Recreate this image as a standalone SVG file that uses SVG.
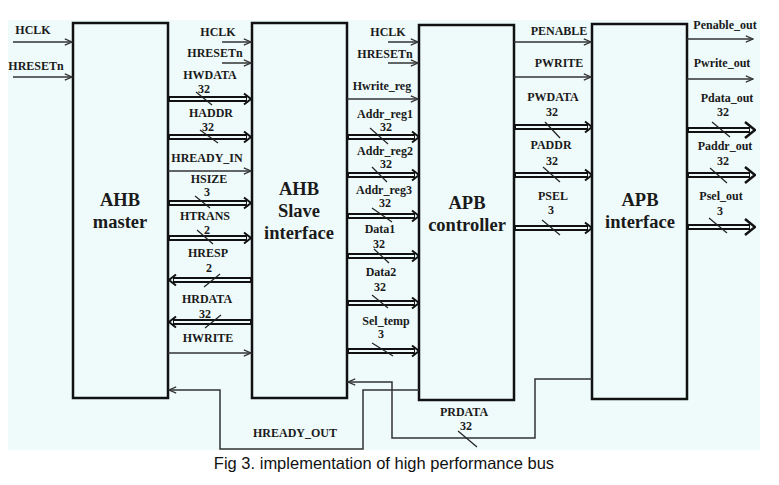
<svg xmlns="http://www.w3.org/2000/svg" width="779" height="485" viewBox="0 0 779 485">
<style>
.box{fill:none;stroke:#111;stroke-width:2.5}
.w{fill:none;stroke:#333;stroke-width:1.5}
.bo{fill:none;stroke:#111;stroke-width:6}
.bi{fill:none;stroke:#effbfb;stroke-width:2}
.sl{stroke:#222;stroke-width:1.2}
.l{font-family:"Liberation Serif","Times New Roman",serif;font-weight:bold;font-size:12px;text-anchor:middle;fill:#1a1a1a}
.t{font-family:"Liberation Serif","Times New Roman",serif;font-weight:bold;font-size:18.5px;text-anchor:middle;fill:#1a1a1a}
.cap{font-family:"Liberation Sans",Arial,sans-serif;font-size:16.5px;text-anchor:middle;fill:#111}
</style>
<defs>
<marker id="a" viewBox="0 0 10 10" markerUnits="userSpaceOnUse" markerWidth="9" markerHeight="9" refX="9" refY="5" orient="auto"><path d="M1,1.5 L9,5 L1,8.5" fill="none" stroke="#333" stroke-width="1.4"/></marker>
<marker id="b" viewBox="0 0 10 14" markerUnits="userSpaceOnUse" markerWidth="10" markerHeight="14" refX="5" refY="7" orient="auto"><path d="M2,1.5 L9,7 L2,12.5" fill="none" stroke="#111" stroke-width="2"/></marker>
<marker id="B" viewBox="0 0 12 20" markerUnits="userSpaceOnUse" markerWidth="12" markerHeight="20" refX="6" refY="10" orient="auto"><path d="M1,2 L11,10 L1,18" fill="none" stroke="#111" stroke-width="2.5"/></marker>
</defs>
<rect x="8" y="20" width="752" height="430" fill="#effbfb"/>

<g id="ahb-master"><rect class="box" x="73" y="23" width="95" height="375"/><text class="t" x="120" y="206">AHB</text><text class="t" x="120" y="228">master</text></g>
<g id="ahb-slave"><rect class="box" x="252" y="23" width="95" height="375"/><text class="t" x="299" y="195">AHB</text><text class="t" x="299" y="217">Slave</text><text class="t" x="299" y="239">interface</text></g>
<g id="apb-controller"><rect class="box" x="419" y="25" width="95" height="375"/><text class="t" x="467" y="209">APB</text><text class="t" x="467" y="231">controller</text></g>
<g id="apb-interface"><rect class="box" x="592" y="24" width="95" height="375"/><text class="t" x="640" y="206">APB</text><text class="t" x="640" y="228">interface</text></g>

<g id="connectors">
<path class="w" d="M13 42H72" marker-end="url(#a)"/>
<path class="w" d="M13 77H72" marker-end="url(#a)"/>
<path class="w" d="M222 42H251" marker-end="url(#a)"/>
<path class="w" d="M222 63H251" marker-end="url(#a)"/>
<path class="bo" d="M168 99H247" marker-end="url(#b)"/><path class="bi" d="M170 99H246"/>
<path class="bo" d="M168 137H247" marker-end="url(#b)"/><path class="bi" d="M170 137H246"/>
<path class="w" d="M168 171H251" marker-end="url(#a)"/>
<path class="bo" d="M168 203H247" marker-end="url(#b)"/><path class="bi" d="M170 203H246"/>
<path class="bo" d="M168 238H247" marker-end="url(#b)"/><path class="bi" d="M170 238H246"/>
<path class="bo" d="M252 280H173" marker-end="url(#b)"/><path class="bi" d="M250 280H174"/>
<path class="bo" d="M252 322H173" marker-end="url(#b)"/><path class="bi" d="M250 322H174"/>
<path class="w" d="M168 353H251" marker-end="url(#a)"/>
<line class="sl" x1="196" y1="92" x2="212" y2="105"/>
<line class="sl" x1="200" y1="130" x2="218" y2="143"/>
<line class="sl" x1="195" y1="196" x2="210" y2="208"/>
<line class="sl" x1="197" y1="230" x2="213" y2="244"/>
<line class="sl" x1="204" y1="287" x2="220" y2="274"/>
<line class="sl" x1="205" y1="328" x2="221" y2="315"/>
<path class="w" d="M388 42H418" marker-end="url(#a)"/>
<path class="w" d="M388 63H418" marker-end="url(#a)"/>
<path class="w" d="M347 99H418" marker-end="url(#a)"/>
<path class="bo" d="M347 137H415" marker-end="url(#b)"/><path class="bi" d="M349 137H414"/>
<path class="bo" d="M347 175H415" marker-end="url(#b)"/><path class="bi" d="M349 175H414"/>
<path class="bo" d="M347 216H415" marker-end="url(#b)"/><path class="bi" d="M349 216H414"/>
<path class="bo" d="M347 256H415" marker-end="url(#b)"/><path class="bi" d="M349 256H414"/>
<path class="bo" d="M347 303H415" marker-end="url(#b)"/><path class="bi" d="M349 303H414"/>
<path class="bo" d="M347 351H415" marker-end="url(#b)"/><path class="bi" d="M349 351H414"/>
<line class="sl" x1="370" y1="128" x2="388" y2="144"/>
<line class="sl" x1="372" y1="167" x2="387" y2="182"/>
<line class="sl" x1="372" y1="208" x2="392" y2="222"/>
<line class="sl" x1="374" y1="249" x2="389" y2="263"/>
<line class="sl" x1="372" y1="295" x2="388" y2="308"/>
<line class="sl" x1="372" y1="343" x2="393" y2="356"/>
<path class="w" d="M514 42H591" marker-end="url(#a)"/>
<path class="w" d="M514 77H591" marker-end="url(#a)"/>
<path class="bo" d="M514 127H588" marker-end="url(#b)"/><path class="bi" d="M516 127H587"/>
<path class="bo" d="M514 175H588" marker-end="url(#b)"/><path class="bi" d="M516 175H587"/>
<path class="bo" d="M514 228H588" marker-end="url(#b)"/><path class="bi" d="M516 228H587"/>
<line class="sl" x1="545" y1="122" x2="560" y2="138"/>
<line class="sl" x1="543" y1="167" x2="560" y2="182"/>
<line class="sl" x1="542" y1="220" x2="560" y2="235"/>
<path class="w" d="M687 39H753" marker-end="url(#a)"/>
<path class="w" d="M687 79H753" marker-end="url(#a)"/>
<path class="bo" d="M687 130H750" marker-end="url(#B)"/><path class="bi" d="M689 130H749"/>
<path class="bo" d="M687 175H750" marker-end="url(#B)"/><path class="bi" d="M689 175H749"/>
<path class="bo" d="M687 227H750" marker-end="url(#B)"/><path class="bi" d="M689 227H749"/>
<line class="sl" x1="712" y1="122" x2="730" y2="137"/>
<line class="sl" x1="710" y1="168" x2="727" y2="183"/>
<line class="sl" x1="709" y1="218" x2="727" y2="233"/>
<path class="w" d="M419 390H363V449H220V390H169" marker-end="url(#a)"/>
<path class="w" d="M592 379H535V438H392V382H348" marker-end="url(#a)"/>
<line class="sl" x1="458" y1="431" x2="477" y2="447"/>
</g>

<g id="labels">
<text class="l" x="33" y="34">HCLK</text>
<text class="l" x="36" y="70">HRESETn</text>
<text class="l" x="218" y="36">HCLK</text>
<text class="l" x="215" y="57">HRESETn</text>
<text class="l" x="210" y="79">HWDATA</text>
<text class="l" x="204" y="93">32</text>
<text class="l" x="211" y="117">HADDR</text>
<text class="l" x="208" y="131">32</text>
<text class="l" x="207" y="162">HREADY_IN</text>
<text class="l" x="209" y="183">HSIZE</text>
<text class="l" x="207" y="196">3</text>
<text class="l" x="205" y="220">HTRANS</text>
<text class="l" x="207" y="234">2</text>
<text class="l" x="208" y="257">HRESP</text>
<text class="l" x="209" y="272">2</text>
<text class="l" x="207" y="303">HRDATA</text>
<text class="l" x="205" y="318">32</text>
<text class="l" x="208" y="342">HWRITE</text>
<text class="l" x="388" y="36">HCLK</text>
<text class="l" x="385" y="58">HRESETn</text>
<text class="l" x="382" y="90">Hwrite_reg</text>
<text class="l" x="385" y="118">Addr_reg1</text>
<text class="l" x="386" y="131">32</text>
<text class="l" x="385" y="155">Addr_reg2</text>
<text class="l" x="386" y="168">32</text>
<text class="l" x="384" y="194">Addr_reg3</text>
<text class="l" x="385" y="207">32</text>
<text class="l" x="380" y="233">Data1</text>
<text class="l" x="379" y="248">32</text>
<text class="l" x="381" y="276">Data2</text>
<text class="l" x="380" y="291">32</text>
<text class="l" x="386" y="325">Sel_temp</text>
<text class="l" x="381" y="338">3</text>
<text class="l" x="559" y="35">PENABLE</text>
<text class="l" x="559" y="67">PWRITE</text>
<text class="l" x="553" y="101">PWDATA</text>
<text class="l" x="552" y="116">32</text>
<text class="l" x="551" y="149">PADDR</text>
<text class="l" x="552" y="165">32</text>
<text class="l" x="553" y="200">PSEL</text>
<text class="l" x="551" y="214">3</text>
<text class="l" x="725" y="29">Penable_out</text>
<text class="l" x="722" y="67">Pwrite_out</text>
<text class="l" x="727" y="102">Pdata_out</text>
<text class="l" x="723" y="116">32</text>
<text class="l" x="725" y="150">Paddr_out</text>
<text class="l" x="723" y="165">32</text>
<text class="l" x="721" y="200">Psel_out</text>
<text class="l" x="720" y="215">3</text>
<text class="l" x="464" y="416">PRDATA</text>
<text class="l" x="466" y="430">32</text>
<text class="l" x="295" y="437">HREADY_OUT</text>
</g>
<text class="cap" x="384" y="469">Fig 3. implementation of high performance bus</text>
</svg>
